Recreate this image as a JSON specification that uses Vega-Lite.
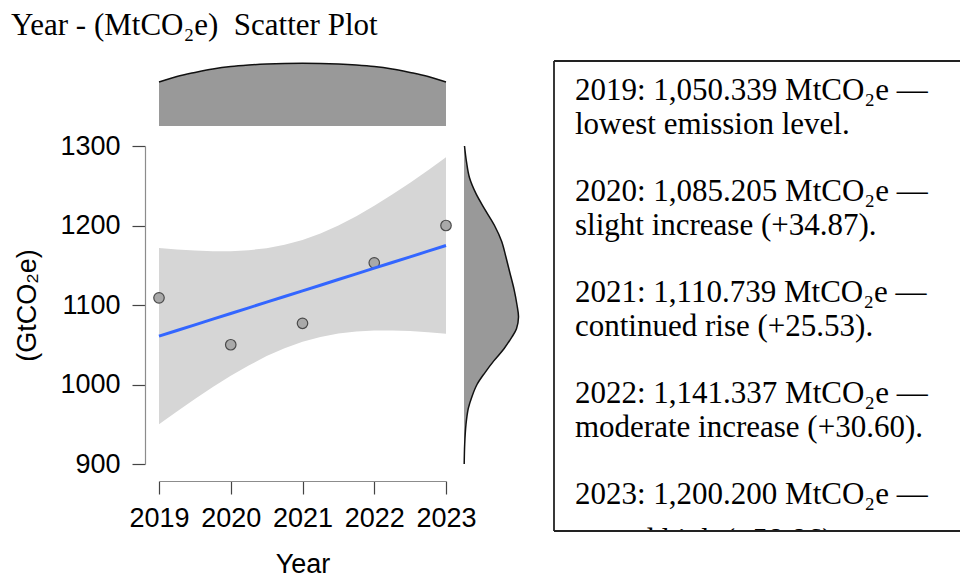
{
  "$schema": "https://vega.github.io/schema/vega-lite/v6.json",
  "padding": {"left": 10, "top": 10, "right": 0, "bottom": 0},
  "background": "white",
  "title": {"text": "Year - (MtCO₂e) \u00a0Scatter Plot", "anchor": "start", "font": "Liberation Serif", "fontSize": 31, "fontWeight": "normal", "color": "black", "offset": 18, "dx": -3},
  "datasets": {
    "points": [
      {"year": 2019, "value": 1109}, {"year": 2020, "value": 1050}, {"year": 2021, "value": 1077}, {"year": 2022, "value": 1153}, {"year": 2023, "value": 1200}
    ],
    "band": [
      {"year": 2019, "fit": 1060.8, "lower": 949.9, "upper": 1171.7},
      {"year": 2019.25, "fit": 1067.9, "lower": 966.0, "upper": 1169.8},
      {"year": 2019.5, "fit": 1075.05, "lower": 981.7, "upper": 1168.5},
      {"year": 2019.75, "fit": 1082.2, "lower": 996.7, "upper": 1167.7},
      {"year": 2020, "fit": 1089.3, "lower": 1010.9, "upper": 1167.7},
      {"year": 2020.25, "fit": 1096.4, "lower": 1023.9, "upper": 1168.9},
      {"year": 2020.5, "fit": 1103.55, "lower": 1035.7, "upper": 1171.5},
      {"year": 2020.75, "fit": 1110.7, "lower": 1045.7, "upper": 1175.7},
      {"year": 2021, "fit": 1117.8, "lower": 1053.8, "upper": 1181.8},
      {"year": 2021.25, "fit": 1124.9, "lower": 1059.9, "upper": 1189.9},
      {"year": 2021.5, "fit": 1132.05, "lower": 1064.2, "upper": 1199.9},
      {"year": 2021.75, "fit": 1139.2, "lower": 1066.7, "upper": 1211.7},
      {"year": 2022, "fit": 1146.3, "lower": 1067.9, "upper": 1224.7},
      {"year": 2022.25, "fit": 1153.4, "lower": 1067.9, "upper": 1238.9},
      {"year": 2022.5, "fit": 1160.55, "lower": 1067.2, "upper": 1253.9},
      {"year": 2022.75, "fit": 1167.7, "lower": 1065.8, "upper": 1269.6},
      {"year": 2023, "fit": 1174.8, "lower": 1063.9, "upper": 1285.7}
    ],
    "xdens": [
      {"year": 2019, "d": 0.0440}, {"year": 2019.25, "d": 0.0495}, {"year": 2019.5, "d": 0.0535}, {"year": 2019.75, "d": 0.0570},
      {"year": 2020, "d": 0.0595}, {"year": 2020.25, "d": 0.0610}, {"year": 2020.5, "d": 0.0620}, {"year": 2020.75, "d": 0.0626},
      {"year": 2021, "d": 0.0628}, {"year": 2021.25, "d": 0.0626}, {"year": 2021.5, "d": 0.0620}, {"year": 2021.75, "d": 0.0610},
      {"year": 2022, "d": 0.0595}, {"year": 2022.25, "d": 0.0570}, {"year": 2022.5, "d": 0.0535}, {"year": 2022.75, "d": 0.0495},
      {"year": 2023, "d": 0.0440}
    ],
    "ydens": [
      {"value": 1300, "d": 0.0005}, {"value": 1280, "d": 0.0025}, {"value": 1260, "d": 0.0055}, {"value": 1240, "d": 0.012},
      {"value": 1220, "d": 0.021}, {"value": 1200, "d": 0.0305}, {"value": 1180, "d": 0.0377}, {"value": 1160, "d": 0.042},
      {"value": 1140, "d": 0.046}, {"value": 1120, "d": 0.050}, {"value": 1100, "d": 0.053}, {"value": 1085, "d": 0.0545},
      {"value": 1070, "d": 0.0525}, {"value": 1060, "d": 0.048}, {"value": 1045, "d": 0.040}, {"value": 1030, "d": 0.030},
      {"value": 1015, "d": 0.021}, {"value": 1000, "d": 0.013}, {"value": 985, "d": 0.008}, {"value": 970, "d": 0.0043},
      {"value": 950, "d": 0.002}, {"value": 925, "d": 0.0007}, {"value": 900, "d": 0.0002}
    ],
    "notes": [
      {"key": "2019a", "text": "2019: 1,050.339 MtCO₂e —"},
      {"key": "2019b", "text": "lowest emission level."},
      {"key": "2020a", "text": "2020: 1,085.205 MtCO₂e —"},
      {"key": "2020b", "text": "slight increase (+34.87)."},
      {"key": "2021a", "text": "2021: 1,110.739 MtCO₂e —"},
      {"key": "2021b", "text": "continued rise (+25.53)."},
      {"key": "2022a", "text": "2022: 1,141.337 MtCO₂e —"},
      {"key": "2022b", "text": "moderate increase (+30.60)."},
      {"key": "2023a", "text": "2023: 1,200.200 MtCO₂e —"},
      {"key": "2023b", "text": "record high (+58.86)."}
    ]
  },
  "hconcat": [
    {
      "vconcat": [
        {
          "width": 287,
          "height": 65,
          "data": {"name": "xdens"},
          "layer": [
            {"mark": {"type": "area", "color": "#999999", "interpolate": "catmull-rom"},
             "encoding": {
               "x": {"field": "year", "type": "quantitative", "scale": {"domain": [2019, 2023], "nice": false, "zero": false}, "axis": null},
               "y": {"field": "d", "type": "quantitative", "scale": {"domain": [0, 0.065], "nice": false}, "axis": null}
             }},
            {"mark": {"type": "line", "color": "#111111", "strokeWidth": 1.5, "interpolate": "catmull-rom"},
             "encoding": {
               "x": {"field": "year", "type": "quantitative"},
               "y": {"field": "d", "type": "quantitative"}
             }}
          ]
        },
        {
          "hconcat": [
            {
              "width": 287,
              "height": 318,
              "layer": [
                {"data": {"name": "band"},
                 "mark": {"type": "area", "color": "#d6d6d6"},
                 "encoding": {
                   "x": {"field": "year", "type": "quantitative", "title": "Year",
                         "scale": {"domain": [2019, 2023], "nice": false, "zero": false},
                         "axis": {"values": [2019, 2020, 2021, 2022, 2023], "format": "d", "offset": 17, "tickSize": 13, "labelPadding": 11, "titlePadding": 20, "labelFlush": false, "labelOverlap": false}},
                   "y": {"field": "lower", "type": "quantitative", "title": "(GtCO₂e)",
                         "scale": {"domain": [900, 1300], "nice": false, "zero": false},
                         "axis": {"values": [900, 1000, 1100, 1200, 1300], "format": "d", "offset": 14, "tickSize": 13, "labelPadding": 12, "titlePadding": 18}},
                   "y2": {"field": "upper"}
                 }},
                {"data": {"name": "points"},
                 "mark": {"type": "point", "filled": true, "fill": "#a9a9a9", "stroke": "#4a4a4a", "strokeWidth": 1.2, "size": 110, "opacity": 1},
                 "encoding": {
                   "x": {"field": "year", "type": "quantitative"},
                   "y": {"field": "value", "type": "quantitative"}
                 }},
                {"data": {"name": "band"},
                 "mark": {"type": "line", "color": "#3366ff", "strokeWidth": 3},
                 "encoding": {
                   "x": {"field": "year", "type": "quantitative"},
                   "y": {"field": "fit", "type": "quantitative"}
                 }}
              ]
            },
            {
              "width": 58,
              "height": 318,
              "data": {"name": "ydens"},
              "layer": [
                {"mark": {"type": "area", "orient": "horizontal", "color": "#999999", "interpolate": "catmull-rom"},
                 "encoding": {
                   "y": {"field": "value", "type": "quantitative", "scale": {"domain": [900, 1300], "nice": false, "zero": false}, "axis": null},
                   "x": {"field": "d", "type": "quantitative", "scale": {"domain": [0, 0.058], "nice": false}, "axis": null}
                 }},
                {"mark": {"type": "line", "color": "#111111", "strokeWidth": 1.5, "interpolate": "catmull-rom"},
                 "encoding": {
                   "y": {"field": "value", "type": "quantitative"},
                   "x": {"field": "d", "type": "quantitative"},
                   "order": {"field": "value", "type": "quantitative"}
                 }}
              ]
            }
          ],
          "spacing": 18,
          "bounds": "flush"
        }
      ],
      "spacing": 20,
      "bounds": "flush"
    },
    {
      "width": 406,
      "height": 470,
      "layer": [
        {
          "data": {"name": "notes"},
          "layer": [
            {"transform": [{"filter": "datum.key != '2023b'"}],
             "mark": {"type": "text", "align": "left", "baseline": "alphabetic", "dx": 21, "font": "Liberation Serif", "fontSize": 31, "color": "black", "clip": true},
             "encoding": {
               "x": {"datum": 0, "type": "quantitative", "scale": {"domain": [0, 1]}, "axis": null},
               "y": {"field": "key", "type": "ordinal", "axis": null,
                     "scale": {"type": "point", "padding": 0, "range": [39, 477],
                               "domain": ["2019a", "2019b", "g1", "2020a", "2020b", "g2", "2021a", "2021b", "g3", "2022a", "2022b", "g4", "2023a", "2023b"]}},
               "text": {"field": "text"}
             }},
            {"transform": [{"filter": "datum.key == '2023b'"}],
             "mark": {"type": "text", "align": "left", "baseline": "alphabetic", "dx": 21, "dy": 12, "font": "Liberation Serif", "fontSize": 31, "color": "black", "clip": true},
             "encoding": {
               "x": {"datum": 0, "type": "quantitative"},
               "y": {"field": "key", "type": "ordinal", "axis": null},
               "text": {"field": "text"}
             }}
          ]
        },
        {"data": {"values": [{"edge": "left"}]},
         "mark": {"type": "rule", "color": "#222222", "strokeWidth": 1.8},
         "encoding": {"x": {"datum": 0, "type": "quantitative"}}},
        {"data": {"values": [{"edge": "top"}, {"edge": "bottom"}]},
         "mark": {"type": "rule", "color": "#222222", "strokeWidth": 1.8},
         "encoding": {"y": {"field": "edge", "type": "nominal", "scale": {"type": "point", "domain": ["top", "bottom"], "padding": 0}, "axis": null}}}
      ],
      "resolve": {"scale": {"y": "independent"}}
    }
  ],
  "spacing": 31,
  "config": {
    "view": {"stroke": null},
    "axis": {
      "grid": false,
      "labelFont": "Liberation Sans", "titleFont": "Liberation Sans",
      "labelFontSize": 27, "titleFontSize": 27, "titleFontWeight": "normal",
      "labelColor": "black", "titleColor": "black",
      "domainColor": "#8c8c8c", "tickColor": "#444444", "domainWidth": 1.2, "tickWidth": 1.2
    }
  }
}
